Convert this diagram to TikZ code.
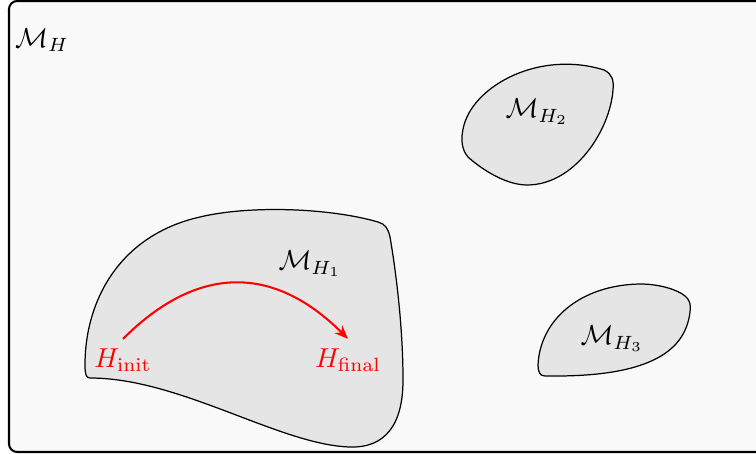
\documentclass[tikz,border=0pt]{standalone}
\usepackage{tikz}
\usetikzlibrary{arrows.meta}
\definecolor{spacebg}{gray}{0.976}
\definecolor{regionfill}{gray}{0.9}

\begin{document}
\begin{tikzpicture}[x=0.365pt, y=-0.365pt,
    region/.style={draw=black, fill=regionfill, line width=0.45pt},
    flow/.style={red, line width=0.75pt, -{Stealth[length=5pt, width=4pt]}},
    endpoint/.style={text=red}]
    \useasboundingbox (0,0) rectangle (756,454);
    % whole space
    \draw[line width=0.75pt, rounded corners=3pt, fill=spacebg] (9,1) rectangle (790,452);
    \node (MH) at (42,40) {$\mathcal{M}_H$};

    % first region
    \draw[region] (90,378) .. controls (180,378) and (280,445) .. (350,447)
        .. controls (385,448) and (403,425) .. (403,380)
        .. controls (403,320) and (394,260) .. (390,237)
        .. controls (388,228) and (385,224) .. (378,222)
        .. controls (330,208) and (250,205) .. (200,217)
        .. controls (120,235) and (85,300) .. (85,365)
        .. controls (85,374) and (86,378) .. (90,378) -- cycle;
    \node (MH1) at (310,264) {$\mathcal{M}_{H_1}$};

    % second region
    \draw[region] (604,70) .. controls (612,74) and (614,80) .. (613,90)
        .. controls (610,130) and (575,185) .. (527,185)
        .. controls (505,185) and (480,168) .. (468,157)
        .. controls (462,150) and (460,140) .. (464,125)
        .. controls (475,85) and (540,50) .. (604,70) -- cycle;
    \node (MH2) at (537,112) {$\mathcal{M}_{H_2}$};

    % third region
    \draw[region] (538,365) .. controls (540,320) and (580,285) .. (640,284)
        .. controls (660,284) and (678,290) .. (685,296)
        .. controls (690,300) and (691,305) .. (690,312)
        .. controls (686,345) and (660,375) .. (560,376)
        -- (545,376) .. controls (540,376) and (538,372) .. (538,365) -- cycle;
    \node (MH3) at (612,339) {$\mathcal{M}_{H_3}$};

    % path inside the first region
    \node[endpoint] (init) at (123,360) {$H_{\mathrm{init}}$};
    \node[endpoint] (final) at (348,360) {$H_{\mathrm{final}}$};
    \draw[flow] (init.north) to[out=45, in=135, looseness=1.2] (final.north);
\end{tikzpicture}
\end{document}
